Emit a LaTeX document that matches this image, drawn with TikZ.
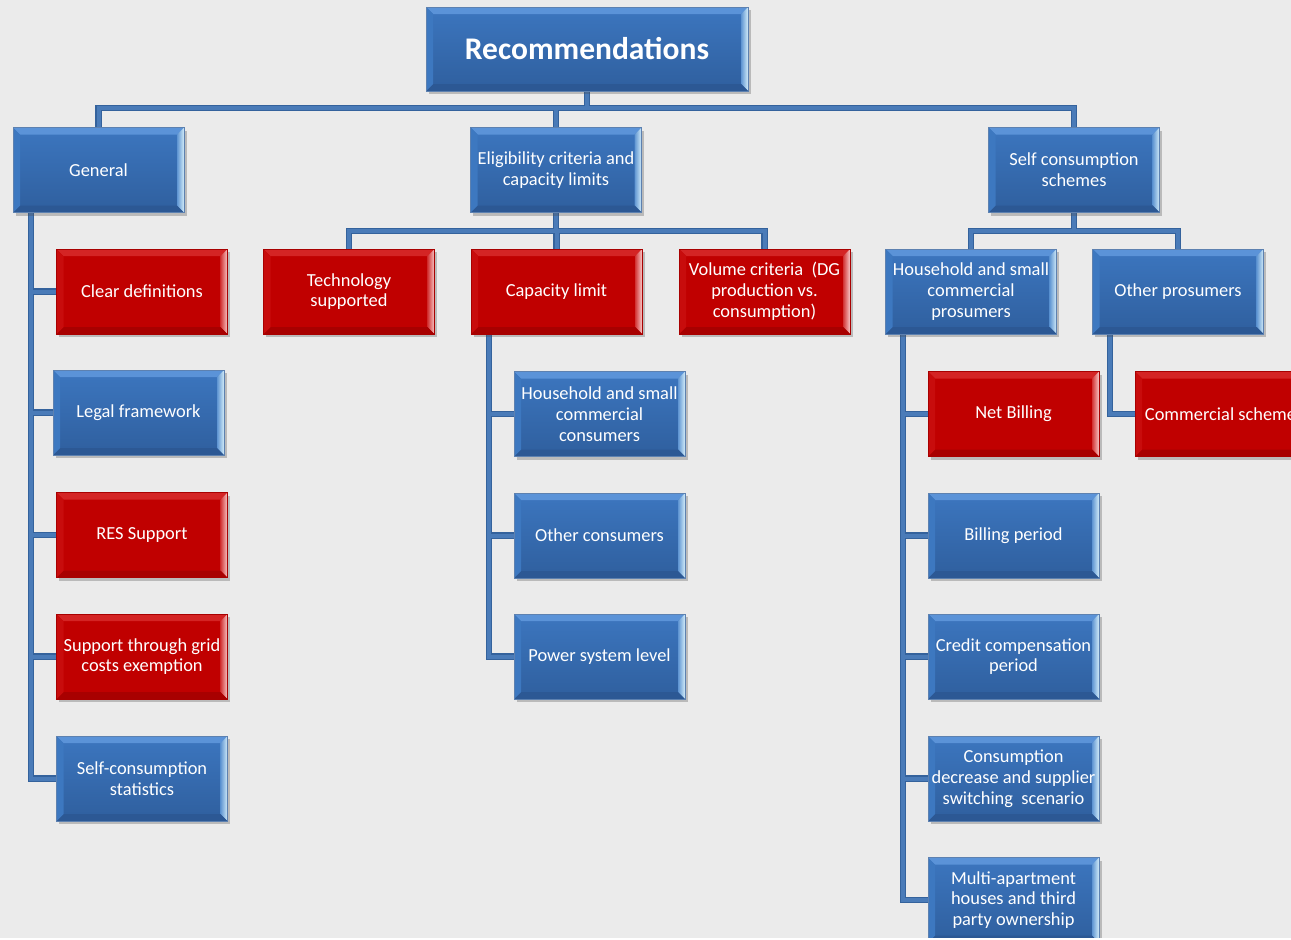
\documentclass[tikz,border=0pt]{standalone}
\usepackage{fontspec}
\setmainfont{Carlito}
\usetikzlibrary{shadows,backgrounds}
\pgfdeclarelayer{bg}
\pgfsetlayers{bg,background,main}
\definecolor{bgc}{HTML}{EBEBEB}
\definecolor{bfaceT}{HTML}{3C76BF}
\definecolor{bfaceB}{HTML}{2F5F9E}
\definecolor{btop}{HTML}{5B93D8}
\definecolor{bright}{HTML}{D2ECF9}
\definecolor{brightin}{HTML}{5F95D2}
\definecolor{bbot}{HTML}{2C5894}
\definecolor{bleft}{HTML}{3D78C0}
\definecolor{rface}{HTML}{C00000}
\definecolor{rtop}{HTML}{D42424}
\definecolor{rright}{HTML}{F8C8C8}
\definecolor{rrightin}{HTML}{D23434}
\definecolor{rbot}{HTML}{A80000}
\definecolor{rleft}{HTML}{C80C0C}
\definecolor{lineout}{HTML}{34629C}
\definecolor{linein}{HTML}{4A7BB8}
\newcommand\bevelpic[5]{%
 \fill[#1] (path picture bounding box.north west) -- (path picture bounding box.north east) -- ([shift={(-7pt,-7pt)}]path picture bounding box.north east) -- ([shift={(7pt,-7pt)}]path picture bounding box.north west) -- cycle;
 \shade[left color=#3,right color=#2] (path picture bounding box.north east) -- (path picture bounding box.south east) -- ([shift={(-7pt,7pt)}]path picture bounding box.south east) -- ([shift={(-7pt,-7pt)}]path picture bounding box.north east) -- cycle;
 \fill[#4] (path picture bounding box.south east) -- (path picture bounding box.south west) -- ([shift={(7pt,7pt)}]path picture bounding box.south west) -- ([shift={(-7pt,7pt)}]path picture bounding box.south east) -- cycle;
 \fill[#5] (path picture bounding box.south west) -- (path picture bounding box.north west) -- ([shift={(7pt,-7pt)}]path picture bounding box.north west) -- ([shift={(7pt,7pt)}]path picture bounding box.south west) -- cycle;
}
\tikzset{
 box/.style={minimum width=171pt, minimum height=85pt, inner sep=2pt, align=center, text=white,
   font=\fontsize{18.4}{20.8}\selectfont,
   drop shadow={shadow xshift=2.5pt, shadow yshift=-3pt, opacity=0.3, fill=black!70}},
 bluebox/.style={box, draw=lineout!80, line width=0.4pt, top color=bfaceT, bottom color=bfaceB,
   path picture={\bevelpic{btop}{bright}{brightin}{bbot}{bleft}}},
 redbox/.style={box, draw=rbot, line width=0.4pt, fill=rface,
   path picture={\bevelpic{rtop}{rright}{rrightin}{rbot}{rleft}}},
 connout/.style={draw=lineout, line width=6.5pt},
 connin/.style={draw=linein, line width=4pt},
}
\newcommand\connpaths{%
 (rec.south) -- (j0) -| (gen.north)
 (j0) -| (elig.north)
 (j0) -| (self.north)
 (elig.south) -- (j1) -| (tech.north)
 (j1) -| (cap.north)
 (j1) -| (vol.north)
 (self.south) -- (j2) -| (hsp.north)
 (j2) -| (op.north)
 (gs) |- (cd.west) (gs) |- (lf.west) (gs) |- (res.west) (gs) |- (sg.west) (gs) |- (scs.west)
 (cs0) |- (hsc.west) (cs0) |- (oc.west) (cs0) |- (psl.west)
 (ps0) |- (nb.west) (ps0) |- (bp.west) (ps0) |- (ccp.west) (ps0) |- (cdss.west) (ps0) |- (ma.west)
 (op0) |- (cs.west)
}
\begin{document}
\begin{tikzpicture}[x=1pt,y=-1pt]
\useasboundingbox (0,0) rectangle (1291,940);
\clip (0,0) rectangle (1291,940);
\begin{pgfonlayer}{bg}
\fill[bgc] (0,0) rectangle (1291,940);
\end{pgfonlayer}
% top
\node[bluebox, minimum width=322pt, minimum height=84pt, font=\fontsize{31.5}{36}\selectfont\bfseries] (rec) at (587,49) {Recommendations};
% level 1
\node[bluebox] (gen) at (98.5,170) {General};
\node[bluebox] (elig) at (556,170) {Eligibility criteria and\\capacity limits};
\node[bluebox] (self) at (1074,170) {Self consumption\\schemes};
% general column
\node[redbox] (cd) at (142,291.5) {Clear definitions};
\node[bluebox] (lf) at (138.5,412.5) {Legal framework};
\node[redbox] (res) at (142,535) {RES Support};
\node[redbox] (sg) at (142,656.5) {Support through grid\\costs exemption};
\node[bluebox] (scs) at (142,778.5) {Self-consumption\\statistics};
% eligibility children
\node[redbox] (tech) at (349,291.5) {Technology\\supported};
\node[redbox] (cap) at (556.5,291.5) {Capacity limit};
\node[redbox] (vol) at (764.5,291.5) {Volume criteria\ \ (DG\\production vs.\\consumption)};
\node[bluebox] (hsc) at (599.5,414) {Household and small\\commercial\\consumers};
\node[bluebox] (oc) at (599.5,535.5) {Other consumers};
\node[bluebox] (psl) at (599.5,656.5) {Power system level};
% self consumption children
\node[bluebox] (hsp) at (971,291.5) {Household and small\\commercial\\prosumers};
\node[bluebox] (op) at (1178,291.5) {Other prosumers};
\node[redbox] (nb) at (1013.5,414) {Net Billing};
\node[redbox] (cs) at (1220.5,414) {Commercial scheme};
\node[bluebox] (bp) at (1013.5,535.5) {Billing period};
\node[bluebox] (ccp) at (1013.5,656.5) {Credit compensation\\period};
\node[bluebox] (cdss) at (1013.5,778.5) {Consumption\\decrease and supplier\\switching\ \ scenario};
\node[bluebox] (ma) at (1013.5,900) {Multi-apartment\\houses and third\\party ownership};
% junctions
\coordinate (j0) at (587,108);
\coordinate (j1) at (556,231);
\coordinate (j2) at (1074,231);
\coordinate (gs) at (31,212);
\coordinate (cs0) at (489,334);
\coordinate (ps0) at (903,334);
\coordinate (op0) at (1110,334);
\begin{pgfonlayer}{background}
\draw[connout] \connpaths;
\draw[connin] \connpaths;
\end{pgfonlayer}
\fill[white] (0,938) rectangle (1291,940);
\end{tikzpicture}
\end{document}
